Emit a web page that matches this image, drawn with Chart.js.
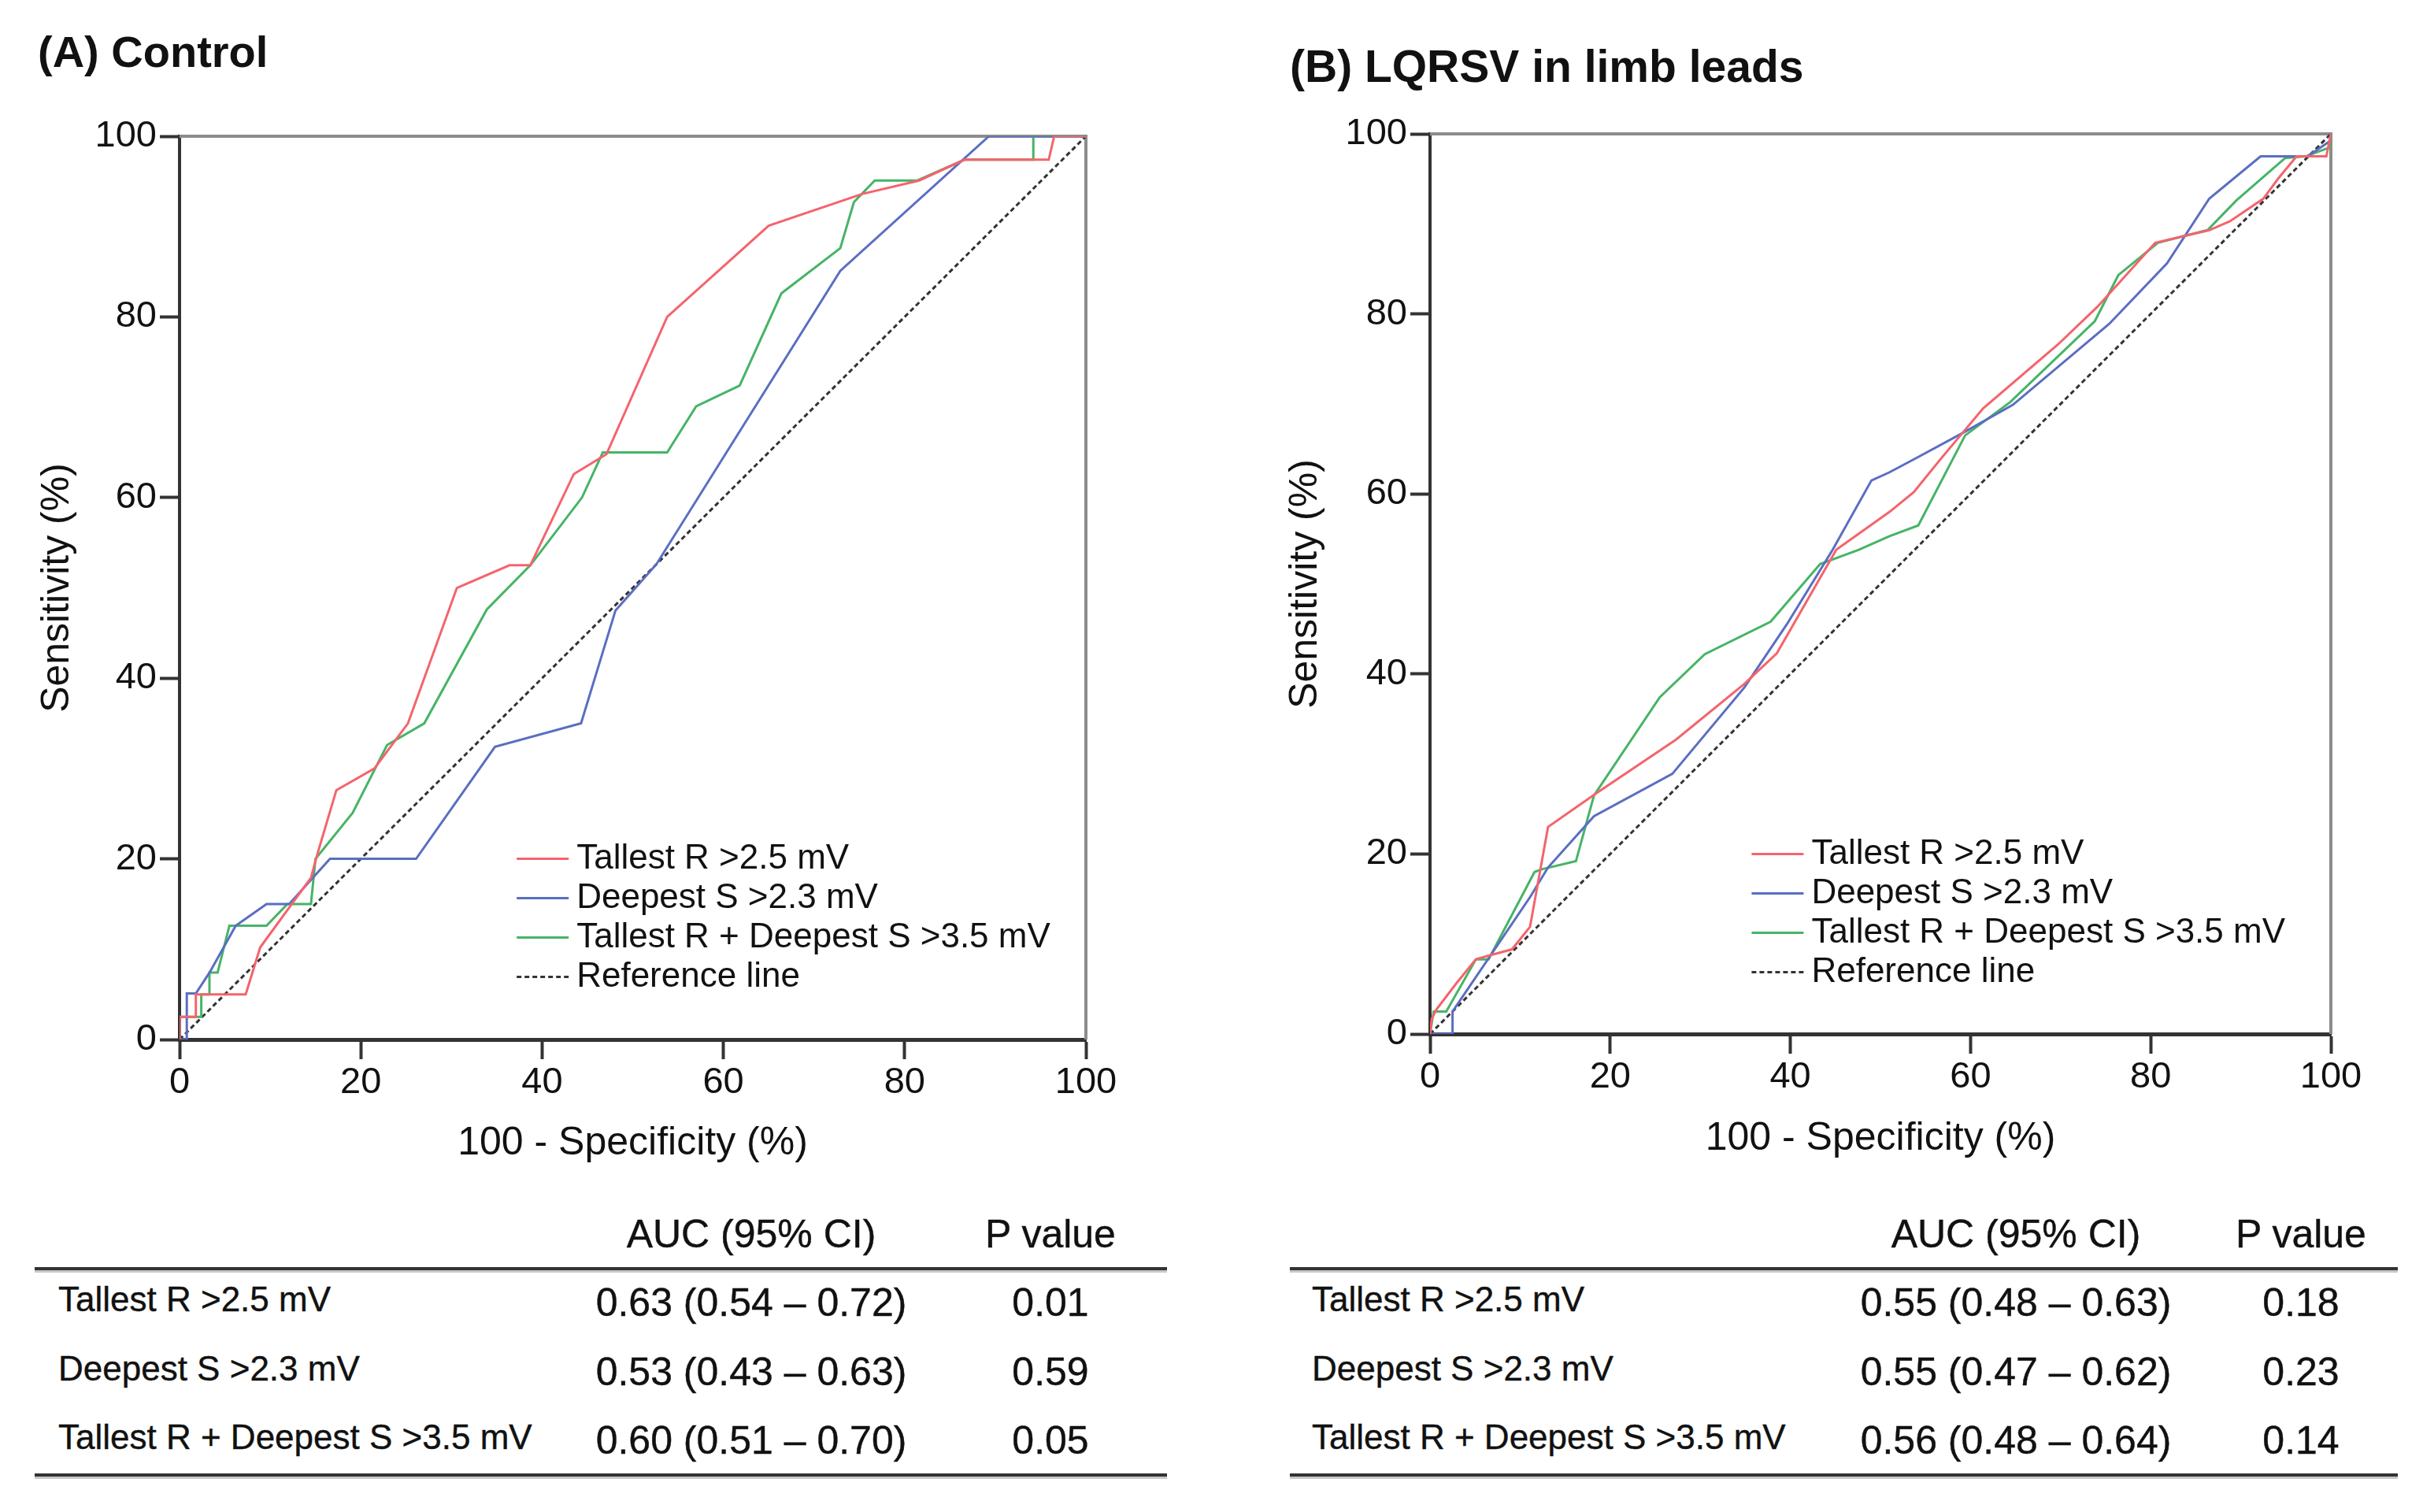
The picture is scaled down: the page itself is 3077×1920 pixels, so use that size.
<!DOCTYPE html>
<html>
<head>
<meta charset="utf-8">
<title>ROC curves</title>
<script src="https://cdn.jsdelivr.net/npm/chart.js@4.4.1/dist/chart.umd.min.js"></script>
<style>
  body { margin: 0; width: 3077px; height: 1920px; background: #fff; position: relative; overflow: hidden;
         font-family: "Liberation Sans", Arial, sans-serif; color: #111; }
  canvas { position: absolute; top: 0; }
  #rocA { left: 0; }
  #rocB { left: 1590px; }
  .ptitle { position: absolute; font-weight: bold; line-height: 1; white-space: nowrap; }
  .cell { position: absolute; line-height: 1; white-space: nowrap; -webkit-text-stroke: 0.4px #111; }
  .rule { position: absolute; height: 4px; background: #333; box-shadow: 0 3px 0 #c8c8c8; }
</style>
</head>
<body>
<div class="ptitle" style="left:48px;top:38px;font-size:56px">(A) Control</div>
<div class="ptitle" style="left:1638px;top:56px;font-size:57px">(B) LQRSV in limb leads</div>
<canvas id="rocA" width="1560" height="1500"></canvas>
<canvas id="rocB" width="1487" height="1500"></canvas>
<div id="tables"></div>
<script>
// ROC points, [100 - specificity, sensitivity] in %
const ctrlTallR = [[0,0],[0,2.5],[1.8,2.5],[1.8,5],[7.3,5],[8.9,10.2],[14.5,17.9],[15.2,20.5],[17.3,27.6],[21.5,30],[25.2,35],[30.6,50],[36.4,52.5],[38.7,52.5],[43.5,62.6],[47.1,64.8],[53.8,80],[65,90.1],[75.3,93.6],[81.6,95.1],[86.6,97.4],[95.9,97.4],[96.5,100],[100,100]];
const ctrlDeepS = [[0,0],[0.8,0],[0.8,5.1],[1.8,5.1],[3.3,7.4],[6.2,12.6],[9.6,15],[12.1,15],[16.6,20],[26.1,20],[34.8,32.4],[44.3,35],[48.1,47.5],[52.6,52.6],[72.9,85.1],[89.3,100],[100,100]];
const ctrlSum = [[0,0],[0,2.5],[2.4,2.5],[2.4,5],[3.3,5],[3.3,7.4],[4.2,7.4],[5.5,12.6],[9.6,12.6],[11.9,15],[14.5,15],[15,20],[19.1,25.1],[22.9,32.6],[27,35],[33.9,47.6],[38.7,52.5],[44.4,60],[46.7,65],[53.8,65],[57,70.1],[61.8,72.4],[66.4,82.6],[72.9,87.6],[74.4,92.7],[76.7,95.1],[81.4,95.1],[86.6,97.4],[94.2,97.4],[94.2,100],[100,100]];

const limbTallR = [[0,0],[0.2,1.7],[0.7,2.7],[2.9,5.6],[5.1,8.3],[6.5,8.7],[9.1,9.4],[11.1,11.9],[13.1,23],[18.4,26.7],[27.3,32.7],[34.9,38.9],[38.5,42.3],[45.1,53.8],[51,58],[53.7,60.2],[56.7,63.9],[61.4,69.5],[69.7,76.6],[74.1,80.8],[80.5,87.9],[86.5,89.3],[88.8,90.3],[92.5,92.8],[94.2,95.1],[96.2,97.5],[99.5,97.5],[100,100]];
const limbDeepS = [[0,0],[2.5,0],[2.5,2.5],[11.1,15.2],[13.1,18.5],[18.2,24.2],[26.9,28.9],[34.9,38.5],[39.6,45.5],[44.7,53.8],[49,61.5],[51,62.4],[54,64],[59,66.7],[64.7,69.9],[75.4,78.9],[81.8,85.6],[86.5,92.8],[92.2,97.5],[97.4,97.5],[99.9,99.2],[100,100]];
const limbSum = [[0,0],[0.4,2.5],[1.8,2.5],[5.1,8.3],[6.5,8.3],[11.6,18],[12.4,18.3],[16.2,19.2],[18.2,26.5],[25.5,37.4],[30.5,42.2],[37.8,45.8],[43.3,52.2],[47.6,53.8],[51,55.3],[54.2,56.5],[59.4,66.5],[64.4,70.2],[73.8,79.2],[76.4,84.3],[80.8,87.9],[83.5,88.6],[86.3,89.3],[89.5,92.6],[94.9,97.3],[97.2,97.5],[99.9,98.5],[100,100]];

const refLine = [[0,0],[100,100]];
const axisTicks = [0, 20, 40, 60, 80, 100];

const seriesLabels = ['Tallest R >2.5 mV', 'Deepest S >2.3 mV', 'Tallest R + Deepest S >3.5 mV', 'Reference line'];
const tableHead = ['AUC (95% CI)', 'P value'];
const ctrlAuc = ['0.63 (0.54 \u2013 0.72)', '0.53 (0.43 \u2013 0.63)', '0.60 (0.51 \u2013 0.70)'];
const ctrlP = ['0.01', '0.59', '0.05'];
const limbAuc = ['0.55 (0.48 \u2013 0.63)', '0.55 (0.47 \u2013 0.62)', '0.56 (0.48 \u2013 0.64)'];
const limbP = ['0.18', '0.23', '0.14'];

const FONT = "'Liberation Sans', Arial, sans-serif";
const colors = ['#f4646c', '#5a6ec2', '#46b466', '#333333'];

Chart.defaults.font.family = FONT;
Chart.defaults.color = '#111';

function toPts(arr) {
    return arr.map(p => ({ x: p[0], y: p[1] }));
}

// top/right frame plus the legend drawn inside the plot
const frameLegend = {
    id: 'frameLegend',
    beforeDatasetsDraw(chart) {
        const { ctx, chartArea: a } = chart;
        ctx.save();
        ctx.strokeStyle = '#8c8c8c';
        ctx.lineWidth = 4;
        ctx.beginPath();
        ctx.moveTo(a.left, a.top);
        ctx.lineTo(a.right, a.top);
        ctx.lineTo(a.right, a.bottom);
        ctx.stroke();
        ctx.restore();
    },
    afterDraw(chart, args, opts) {
        const { ctx, chartArea: a } = chart;
        const x0 = a.left + opts.x * (a.right - a.left);
        let y = a.top + opts.y * (a.bottom - a.top);
        ctx.save();
        ctx.font = opts.size + 'px ' + FONT;
        ctx.textBaseline = 'middle';
        chart.data.datasets.forEach(ds => {
            ctx.strokeStyle = ds.borderColor;
            ctx.lineWidth = ds.borderWidth;
            ctx.setLineDash(ds.borderDash || []);
            ctx.beginPath();
            ctx.moveTo(x0, y);
            ctx.lineTo(x0 + 66, y);
            ctx.stroke();
            ctx.setLineDash([]);
            ctx.fillStyle = '#111';
            ctx.fillText(ds.label, x0 + 76, y);
            y += opts.gap;
        });
        ctx.restore();
    }
};

function criarRoc(id, series, box) {
    const sets = series.map((s, i) => ({
        label: seriesLabels[i],
        data: toPts(s),
        borderColor: colors[i],
        borderWidth: 3,
        borderDash: i === 3 ? [6, 4] : [],
        showLine: true,
        pointRadius: 0,
        tension: 0
    }));

    return new Chart(document.getElementById(id), {
        type: 'scatter',
        data: { datasets: sets },
        plugins: [frameLegend],
        options: {
            responsive: false,
            animation: false,
            devicePixelRatio: 1,
            layout: { padding: { left: 0, top: box.top, right: box.right, bottom: 0 } },
            plugins: {
                legend: { display: false },
                tooltip: { enabled: false },
                frameLegend: { x: box.legX, y: 0.80, gap: 50, size: 44 }
            },
            scales: {
                x: {
                    type: 'linear', min: 0, max: 100,
                    afterBuildTicks: s => { s.ticks = axisTicks.map(v => ({ value: v })); },
                    afterFit: s => { s.height = box.xh; },
                    ticks: { font: { size: 47 }, color: '#111', padding: 2, maxRotation: 0 },
                    grid: { drawOnChartArea: false, drawTicks: true, tickLength: 25, tickWidth: 4, tickColor: '#333' },
                    border: { display: true, color: '#333', width: 5 },
                    title: { display: true, text: '100 - Specificity (%)', font: { size: 50 }, color: '#111',
                             padding: { top: 0, bottom: box.xtPad } }
                },
                y: {
                    type: 'linear', min: 0, max: 100,
                    afterBuildTicks: s => { s.ticks = axisTicks.map(v => ({ value: v })); },
                    afterFit: s => { s.width = box.yw; },
                    ticks: { font: { size: 47 }, color: '#111', padding: 4 },
                    grid: { drawOnChartArea: false, drawTicks: true, tickLength: 25, tickWidth: 4, tickColor: '#333' },
                    border: { display: true, color: '#333', width: 4 },
                    title: { display: true, text: 'Sensitivity (%)', font: { size: 50 }, color: '#111',
                             padding: { top: box.ytPad, bottom: 0 } }
                }
            }
        }
    });
}

criarRoc('rocA', [ctrlTallR, ctrlDeepS, ctrlSum, refLine],
    { top: 173, right: 1560 - 1379, xh: 1500 - 1320, yw: 228, xtPad: 18, ytPad: 43, legX: 0.372 });
criarRoc('rocB', [limbTallR, limbDeepS, limbSum, refLine],
    { top: 170, right: 1487 - (2960 - 1590), xh: 1500 - 1313, yw: 1816 - 1590, xtPad: 24, ytPad: 38, legX: 0.357 });

// AUC tables under each panel
function criarTabela(left, right, labelX, aucX, pX, aucs, ps) {
    const host = document.getElementById('tables');
    const add = (txt, x, yc, size, center) => {
        const d = document.createElement('div');
        d.className = 'cell';
        d.textContent = txt;
        d.style.fontSize = size + 'px';
        d.style.top = (yc - size / 2) + 'px';
        d.style.left = x + 'px';
        if (center) d.style.transform = 'translateX(-50%)';
        host.appendChild(d);
    };
    const rule = y => {
        const r = document.createElement('div');
        r.className = 'rule';
        r.style.left = left + 'px';
        r.style.width = (right - left) + 'px';
        r.style.top = y + 'px';
        host.appendChild(r);
    };
    add(tableHead[0], aucX, 1567, 50, true);
    add(tableHead[1], pX, 1567, 50, true);
    rule(1609);
    const rows = [1654, 1742, 1829];
    rows.forEach((yc, i) => {
        add(seriesLabels[i], labelX, yc - 4, 44, false);
        add(aucs[i], aucX, yc, 50, true);
        add(ps[i], pX, yc, 50, true);
    });
    rule(1871);
}

criarTabela(44, 1482, 74, 954, 1334, ctrlAuc, ctrlP);
criarTabela(1638, 3045, 1666, 2560, 2922, limbAuc, limbP);
</script>
</body>
</html>
